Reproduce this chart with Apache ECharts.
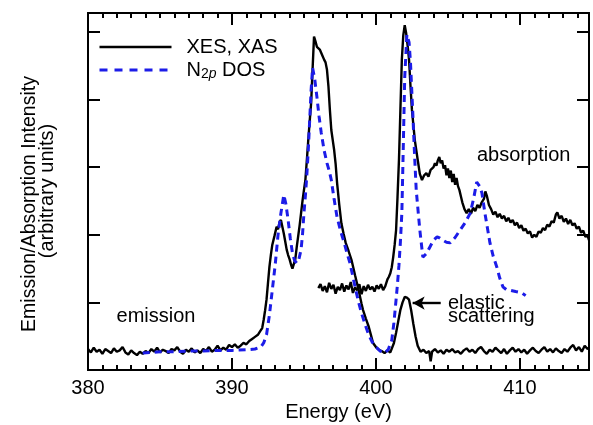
<!DOCTYPE html>
<html>
<head>
<meta charset="utf-8">
<script src="https://cdn.jsdelivr.net/npm/echarts@6.0.0/dist/echarts.min.js"></script>
<style>
html, body { margin: 0; padding: 0; background: #fff; }
#chart { width: 593px; height: 425px; }
</style>
</head>
<body>
<div id="chart"></div>
<script>
// energy (eV), intensity (arb. units, 1 unit = one y tick)
const emission = [
  [380.0,0.31],[380.2,0.26],[380.4,0.33],[380.6,0.27],[380.8,0.30],[381.0,0.24],[381.2,0.31],[381.4,0.28],
  [381.6,0.25],[381.8,0.32],[382.0,0.27],[382.2,0.29],[382.4,0.34],[382.6,0.26],[382.8,0.23],[383.0,0.29],
  [383.2,0.25],[383.4,0.22],[383.6,0.27],[383.8,0.24],[384.0,0.28],[384.2,0.25],[384.4,0.31],[384.6,0.27],
  [384.8,0.33],[385.0,0.26],[385.2,0.30],[385.4,0.28],[385.6,0.25],[385.8,0.31],[386.0,0.29],[386.2,0.34],
  [386.4,0.27],[386.6,0.24],[386.8,0.30],[387.0,0.27],[387.2,0.32],[387.4,0.26],[387.6,0.29],[387.8,0.25],
  [388.0,0.31],[388.2,0.28],[388.4,0.34],[388.6,0.27],[388.8,0.30],[389.0,0.36],[389.2,0.29],[389.4,0.33],
  [389.6,0.30],[389.8,0.37],[390.0,0.34],[390.2,0.38],[390.4,0.33],[390.6,0.36],[390.8,0.40],[391.0,0.38],
  [391.2,0.43],[391.4,0.46],[391.6,0.49],[391.8,0.52],[391.95,0.57],[392.1,0.62],[392.2,0.74],[392.3,0.88],
  [392.4,1.04],[392.5,1.28],[392.6,1.52],[392.7,1.70],[392.8,1.85],[392.95,1.98],[393.1,2.12],[393.2,2.08],
  [393.3,2.18],[393.4,2.22],[393.5,2.12],[393.6,2.02],[393.7,1.90],[393.8,1.78],[393.9,1.70],[394.0,1.64],
  [394.1,1.56],[394.2,1.50],[394.3,1.52],[394.4,1.64],[394.5,1.82],[394.6,1.98],[394.7,2.14],[394.8,2.32],
  [394.9,2.50],[395.0,2.66],[395.1,2.81],[395.2,3.10],[395.3,3.40],[395.4,3.68],[395.5,3.95],[395.6,4.45],
  [395.7,4.93],[395.8,4.86],[395.9,4.78],[396.0,4.80],[396.1,4.74],[396.2,4.73],[396.3,4.64],[396.4,4.59],
  [396.5,4.55],[396.6,4.44],[396.7,4.20],[396.8,3.85],[396.9,3.55],[397.0,3.40],[397.1,3.25],[397.2,3.05],
  [397.3,2.77],[397.45,2.45],[397.6,2.17],[397.75,2.02],[397.9,1.88],[398.1,1.76],[398.3,1.63],[398.55,1.40],
  [398.8,1.18],[399.0,0.98],[399.1,0.89],[399.3,0.76],[399.5,0.64],[399.65,0.52],[399.8,0.40],[400.0,0.34],
  [400.2,0.30],[400.4,0.28],[400.6,0.25],[400.8,0.29],[401.0,0.26],[401.1,0.27],[401.25,0.40],[401.4,0.55],
  [401.55,0.72],[401.7,0.89],[401.85,1.00],[402.0,1.08],[402.15,1.07],[402.3,1.04],[402.45,0.88],[402.6,0.68],
  [402.75,0.50],[402.9,0.36],[403.1,0.27],[403.3,0.30],[403.5,0.25],[403.7,0.28],[403.8,0.13],[403.9,0.27],
  [404.1,0.31],[404.3,0.26],[404.5,0.29],[404.7,0.24],[404.9,0.30],[405.1,0.27],[405.3,0.31],[405.5,0.26],
  [405.7,0.28],[405.9,0.24],[406.1,0.29],[406.3,0.32],[406.5,0.27],[406.7,0.30],[406.9,0.25],[407.1,0.31],
  [407.3,0.34],[407.5,0.28],[407.7,0.24],[407.9,0.30],[408.1,0.27],[408.3,0.33],[408.5,0.29],[408.7,0.25],
  [408.9,0.31],[409.1,0.24],[409.3,0.29],[409.5,0.33],[409.7,0.27],[409.9,0.31],[410.1,0.26],[410.3,0.30],
  [410.5,0.24],[410.7,0.29],[410.9,0.33],[411.1,0.28],[411.3,0.25],[411.5,0.30],[411.7,0.34],[411.9,0.27],
  [412.1,0.31],[412.3,0.26],[412.5,0.32],[412.7,0.28],[412.9,0.25],[413.1,0.31],[413.3,0.27],[413.5,0.33],
  [413.7,0.37],[413.9,0.29],[414.1,0.34],[414.3,0.27],[414.5,0.36],[414.7,0.31],[414.8,0.33]
];

const absorption = [
  [396.0,1.21],[396.15,1.27],[396.3,1.17],[396.45,1.24],[396.6,1.15],[396.75,1.29],[396.9,1.20],[397.05,1.26],
  [397.2,1.13],[397.35,1.23],[397.5,1.18],[397.65,1.28],[397.8,1.16],[397.95,1.25],[398.1,1.19],[398.25,1.30],
  [398.4,1.14],[398.55,1.22],[398.7,1.18],[398.85,1.27],[399.0,1.12],[399.15,1.24],[399.3,1.17],[399.45,1.26],
  [399.6,1.19],[399.75,1.23],[399.9,1.16],[400.05,1.25],[400.2,1.20],[400.35,1.27],[400.5,1.18],[400.65,1.24],
  [400.8,1.34],[400.9,1.38],[401.0,1.43],[401.1,1.52],[401.2,1.67],[401.3,1.85],[401.4,2.07],[401.5,2.56],
  [401.6,3.11],[401.7,3.85],[401.8,4.59],[401.9,4.95],[402.0,5.10],[402.1,4.98],[402.2,4.80],[402.3,4.59],
  [402.4,4.20],[402.5,3.85],[402.7,3.40],[402.9,3.11],[403.05,2.90],[403.2,2.81],[403.35,2.88],[403.5,2.91],
  [403.65,2.86],[403.8,2.96],[404.0,3.00],[404.1,3.06],[404.2,3.02],[404.3,3.10],[404.4,3.15],[404.5,3.06],
  [404.6,3.10],[404.7,2.98],[404.8,3.03],[404.9,2.88],[405.0,2.98],[405.1,2.84],[405.2,2.95],[405.3,2.78],
  [405.4,2.90],[405.5,2.74],[405.6,2.84],[405.7,2.72],[405.8,2.66],[405.9,2.57],[406.0,2.48],[406.15,2.38],
  [406.3,2.32],[406.45,2.38],[406.6,2.31],[406.75,2.40],[406.9,2.35],[407.05,2.44],[407.2,2.40],[407.35,2.48],
  [407.5,2.53],[407.6,2.64],[407.7,2.58],[407.85,2.44],[408.0,2.38],[408.15,2.30],[408.3,2.34],[408.45,2.26],
  [408.6,2.31],[408.75,2.24],[408.9,2.28],[409.05,2.20],[409.2,2.25],[409.35,2.18],[409.5,2.22],[409.65,2.14],
  [409.8,2.18],[409.95,2.10],[410.1,2.14],[410.25,2.06],[410.4,2.09],[410.55,2.02],[410.7,2.05],[410.85,1.96],
  [411.0,2.00],[411.15,1.97],[411.3,2.05],[411.45,2.03],[411.6,2.10],[411.75,2.07],[411.9,2.15],[412.05,2.12],
  [412.2,2.20],[412.35,2.18],[412.5,2.30],[412.6,2.33],[412.75,2.24],[412.9,2.28],[413.05,2.19],[413.2,2.24],
  [413.35,2.16],[413.5,2.22],[413.65,2.14],[413.8,2.17],[413.95,2.09],[414.1,2.12],[414.25,2.03],[414.4,2.06],
  [414.55,1.97],[414.7,1.99],[414.8,1.92]
];

const n2pDos = [
  [383.8,0.25],[385.0,0.27],[386.0,0.27],[387.0,0.28],[388.0,0.28],[389.0,0.29],[390.0,0.29],[391.0,0.30],
  [391.6,0.31],[392.0,0.34],[392.2,0.40],[392.4,0.52],[392.6,0.81],[392.8,1.18],[393.0,1.55],[393.2,2.00],
  [393.4,2.32],[393.6,2.59],[393.75,2.45],[393.9,2.22],[394.05,1.95],[394.2,1.73],[394.35,1.62],[394.5,1.58],
  [394.65,1.64],[394.8,1.78],[394.9,2.00],[395.0,2.32],[395.1,2.58],[395.2,2.88],[395.3,3.25],[395.4,3.70],
  [395.5,4.15],[395.6,4.47],[395.75,4.30],[395.9,4.04],[396.05,3.75],[396.2,3.51],[396.4,3.25],[396.6,3.06],
  [396.75,2.95],[396.9,2.81],[397.1,2.52],[397.3,2.26],[397.55,2.05],[397.8,1.88],[398.0,1.72],[398.2,1.58],
  [398.4,1.38],[398.6,1.18],[398.8,1.00],[399.0,0.84],[399.25,0.67],[399.5,0.52],[399.75,0.41],[400.0,0.34],
  [400.3,0.28],[400.6,0.25],[400.85,0.30],[401.1,0.44],[401.25,0.70],[401.4,1.04],[401.5,1.28],[401.6,1.55],
  [401.7,1.90],[401.8,2.32],[401.9,3.30],[402.0,4.33],[402.15,4.96],[402.3,4.85],[402.4,4.55],[402.55,3.85],
  [402.7,3.10],[402.8,2.66],[402.95,2.30],[403.05,2.07],[403.26,1.67],[403.5,1.72],[403.75,1.82],[404.0,1.92],
  [404.25,1.97],[404.45,1.95],[404.65,1.92],[404.9,1.89],[405.15,1.88],[405.5,1.96],[405.85,2.07],[406.2,2.18],
  [406.55,2.32],[406.8,2.55],[407.0,2.78],[407.2,2.72],[407.36,2.62],[407.57,2.32],[407.92,1.88],[408.15,1.68],
  [408.4,1.52],[408.6,1.36],[408.82,1.23],[409.05,1.19],[409.3,1.18],[409.7,1.16],[410.14,1.14],[410.4,1.10]
];

const xMin = 380, xMax = 414.8;
const yMin = 0, yMax = 5.28;
const arrowFrom = [404.5, 0.99], arrowTo = [402.55, 0.99];

const font = "'Liberation Sans', Arial, Helvetica, sans-serif";
const blue = '#1c1ce8';

function xAxisCfg(pos, step, tickLen, labels) {
    return {
        type: 'value', position: pos, min: xMin, max: xMax, interval: step,
        axisLine: { show: true, onZero: false, lineStyle: { color: '#000', width: 2 } },
        axisTick: { show: true, inside: true, length: tickLen, lineStyle: { color: '#000', width: 2 } },
        axisLabel: {
            show: labels, color: '#000', fontSize: 20, fontFamily: font, margin: 8,
            formatter: v => (v % 10 === 0 ? String(v) : '')
        },
        splitLine: { show: false },
        name: labels ? 'Energy (eV)' : '',
        nameLocation: 'middle', nameGap: 31,
        nameTextStyle: { color: '#000', fontSize: 20, fontFamily: font }
    };
}
function yAxisCfg(pos) {
    return {
        type: 'value', position: pos, min: yMin, max: yMax, interval: 1,
        axisLine: { show: true, onZero: false, lineStyle: { color: '#000', width: 2 } },
        axisTick: { show: true, inside: true, length: 12, lineStyle: { color: '#000', width: 2 } },
        axisLabel: { show: false },
        splitLine: { show: false }
    };
}

const option = {
    animation: false,
    backgroundColor: '#fff',
    grid: { left: 88, right: 4, top: 13, bottom: 55, containLabel: false, outerBoundsMode: 'none' },
    xAxis: [
        xAxisCfg('bottom', 10, 12, true),
        xAxisCfg('bottom', 1, 5, false),
        xAxisCfg('top', 10, 12, false),
        xAxisCfg('top', 1, 5, false)
    ],
    yAxis: [yAxisCfg('left'), yAxisCfg('right')],
    legend: {
        orient: 'vertical', left: 98, top: 37, padding: 0, itemGap: 3,
        itemWidth: 72, itemHeight: 14,
        itemStyle: { color: 'rgba(0,0,0,0)', borderWidth: 0, opacity: 0 },
        data: [
            { name: 'XES, XAS', lineStyle: { color: '#000', width: 2.4, type: 'solid' } },
            { name: 'N2p DOS', lineStyle: { color: blue, width: 3, type: [8, 7] } }
        ],
        formatter: function (name) {
            if (name === 'N2p DOS') return '{t|N}{s|2}{si|p}{t| DOS}';
            return '{t|' + name + '}';
        },
        textStyle: {
            color: '#000', fontSize: 20, fontFamily: font, padding: [0, 0, 0, 10],
            rich: {
                t: { fontSize: 20, fontFamily: font, color: '#000' },
                s: { fontSize: 14, fontFamily: font, color: '#000', padding: [9, 0, 0, 0] },
                si: { fontSize: 14, fontFamily: font, color: '#000', fontStyle: 'italic', padding: [9, 0, 0, 0] }
            }
        }
    },
    series: [
        {
            name: 'XES, XAS', type: 'line', data: emission, symbol: 'none', showSymbol: false,
            lineStyle: { color: '#000', width: 2.4 }, itemStyle: { color: '#000' }, z: 2,
            markLine: {
                silent: true, symbol: ['none', 'arrow'], symbolSize: [10, 12],
                label: { show: false },
                lineStyle: { color: '#000', width: 2.4, type: 'solid' },
                data: [[{ coord: arrowFrom }, { coord: arrowTo }]]
            }
        },
        {
            name: 'XES, XAS', type: 'line', data: absorption, symbol: 'none', showSymbol: false,
            lineStyle: { color: '#000', width: 2.4 }, itemStyle: { color: '#000' }, z: 2
        },
        {
            name: 'N2p DOS', type: 'line', data: n2pDos, symbol: 'none', showSymbol: false,
            lineStyle: { color: blue, width: 3, type: [7, 5] }, itemStyle: { color: blue }, z: 3
        }
    ],
    graphic: [
        { type: 'text', x: 30, y: 204, rotation: Math.PI / 2,
          style: { text: 'Emission/Absorption Intensity', font: '19.5px ' + font, fill: '#000', align: 'center', verticalAlign: 'middle' } },
        { type: 'text', x: 47, y: 191, rotation: Math.PI / 2,
          style: { text: '(arbitrary units)', font: '20px ' + font, fill: '#000', align: 'center', verticalAlign: 'middle' } },
        { type: 'text', x: 156, y: 316,
          style: { text: 'emission', font: '20px ' + font, fill: '#000', align: 'center', verticalAlign: 'middle' } },
        { type: 'text', x: 477, y: 155,
          style: { text: 'absorption', font: '20px ' + font, fill: '#000', align: 'left', verticalAlign: 'middle' } },
        { type: 'text', x: 448, y: 303,
          style: { text: 'elastic', font: '20px ' + font, fill: '#000', align: 'left', verticalAlign: 'middle' } },
        { type: 'text', x: 448, y: 316,
          style: { text: 'scattering', font: '20px ' + font, fill: '#000', align: 'left', verticalAlign: 'middle' } }
    ]
};

const chart = echarts.init(document.getElementById('chart'));
chart.setOption(option);
</script>
</body>
</html>
